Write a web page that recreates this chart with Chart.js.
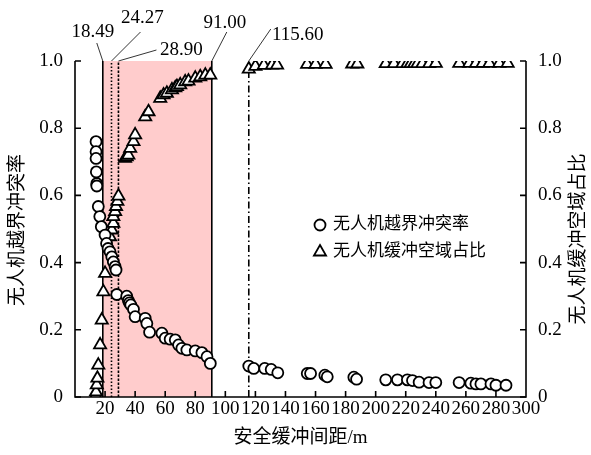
<!DOCTYPE html>
<html>
<head>
<meta charset="utf-8">
<script src="https://cdn.jsdelivr.net/npm/chart.js@4.4.1/dist/chart.umd.min.js"></script>
<style>
  html, body { margin: 0; padding: 0; background: #fff; }
  canvas { display: block; }
</style>
</head>
<body>
<canvas id="chart" width="591" height="455"></canvas>
<script>
// 越界冲突率 (circles)
const rateX = [14.0, 14.0, 14.0, 14.2, 14.5, 14.5, 15.5, 16.5, 17.5, 20.0, 21.0, 22.0, 23.3, 24.5, 25.5, 26.7, 27.3,
  27.8, 34.4, 35.5, 36.2, 37.1, 38.9, 40.0, 46.7, 47.8, 49.6, 57.8, 60.0, 63.3, 66.7, 68.9, 71.1, 74.4, 80.0, 84.4, 87.8, 90.0,
  115.6, 118.9, 126.2, 130.5, 134.9, 154.5, 156.7, 166.2, 167.8, 185.5, 187.3, 206.7, 214.5, 221.1, 224.5, 228.9, 235.5, 240.0,
  255.5, 263.3, 266.7, 270.0, 276.7, 280.0, 286.7];
const rateY = [0.76, 0.73, 0.71, 0.67, 0.635, 0.628, 0.567, 0.537, 0.507, 0.482, 0.457, 0.442, 0.432, 0.417, 0.402, 0.388, 0.378,
  0.305, 0.30, 0.287, 0.28, 0.274, 0.261, 0.239, 0.234, 0.219, 0.193, 0.19, 0.175, 0.172, 0.17, 0.155, 0.145, 0.14, 0.137, 0.132, 0.12, 0.10,
  0.092, 0.085, 0.085, 0.082, 0.072, 0.07, 0.07, 0.065, 0.06, 0.059, 0.053, 0.051, 0.051, 0.051, 0.049, 0.044, 0.043, 0.043,
  0.043, 0.041, 0.039, 0.039, 0.039, 0.035, 0.035];

// 缓冲空域占比 (triangles)
const ratioX = [13.8, 14.0, 14.5, 14.9, 15.5, 16.7, 17.8, 18.9, 20.0, 23.3, 24.5, 25.5, 25.5, 26.7, 27.3, 28.2, 28.9,
  33.3, 34.4, 35.5, 36.7, 38.9, 40.0, 46.7, 48.9, 56.7, 58.9, 61.1, 64.5, 66.7, 67.8, 70.0, 73.3, 75.5, 80.0, 83.3, 86.7, 90.0,
  115.6, 120.0, 125.6, 131.1, 134.4, 154.4, 160.0, 166.7, 184.4, 187.8,
  206.7, 212.2, 217.8, 221.1, 223.3, 225.6, 227.8, 231.1, 235.6, 240.0,
  255.6, 262.2, 266.7, 271.1, 275.6, 282.2, 287.8];
const ratioY = [0.005, 0.015, 0.036, 0.056, 0.095, 0.155, 0.229, 0.313, 0.368, 0.477, 0.497, 0.517, 0.537, 0.552, 0.567, 0.582, 0.598,
  0.71, 0.715, 0.72, 0.74, 0.76, 0.78, 0.834, 0.849, 0.889, 0.899, 0.904, 0.914, 0.92, 0.924, 0.929, 0.938, 0.94, 0.949, 0.953, 0.958, 0.958,
  0.976, 0.984, 0.987, 0.988, 0.988, 0.99, 0.99, 0.99, 0.991, 0.991,
  0.992, 0.992, 0.992, 0.992, 0.992, 0.992, 0.992, 0.992, 0.992, 0.993,
  0.993, 0.993, 0.993, 0.993, 0.993, 0.993, 0.993];

// 标注竖线
const markLines = [18.49, 24.27, 28.90, 91.00, 115.60];
const shadeRange = [18.49, 91.00];

const xTitle = '安全缓冲间距/m';
const yTitle = '无人机越界冲突率';
const y1Title = '无人机缓冲空域占比';

const serif = "'Liberation Serif', 'Noto Sans CJK SC', serif";

function toPoints(xs, ys) {
  return xs.map((x, i) => ({ x: x, y: ys[i] }));
}

// line style + label placement for each marker (offsets from line top)
const markStyle = [
  { dash: [], end: [-6, -18], text: [-10, -29] },
  { dash: [1.5, 2], end: [29, -29], text: [31, -43] },
  { dash: [2.5, 1.5], end: [38, -11], text: [63, -11] },
  { dash: [], end: [15, -29], text: [13, -38] },
  { dash: [7, 3, 1.5, 3], end: [22, -32], text: [49, -26], top: 0.975 }
];

const decorPlugin = {
  id: 'decor',
  beforeDatasetsDraw(chart) {
    const { ctx, chartArea: a, scales: { x, y } } = chart;
    ctx.save();
    // shaded band
    ctx.fillStyle = 'rgb(255,204,204)';
    const x0 = x.getPixelForValue(shadeRange[0]);
    const x1 = x.getPixelForValue(shadeRange[1]);
    ctx.fillRect(x0, a.top, x1 - x0, a.bottom - a.top);

    // vertical lines
    ctx.strokeStyle = '#000';
    ctx.lineWidth = 1.6;
    markLines.forEach((v, i) => {
      const st = markStyle[i];
      const px = x.getPixelForValue(v);
      const yt = y.getPixelForValue(st.top || 1);
      ctx.setLineDash(st.dash);
      ctx.beginPath();
      ctx.moveTo(px, a.bottom);
      ctx.lineTo(px, yt);
      ctx.stroke();
    });
    ctx.setLineDash([]);
    ctx.restore();
  },
  afterDraw(chart) {
    const { ctx, chartArea: a, scales: { x, y, y1 } } = chart;
    ctx.save();
    ctx.strokeStyle = '#000';
    ctx.fillStyle = '#000';
    ctx.lineWidth = 1.6;

    // axes frame (no top line)
    ctx.beginPath();
    ctx.moveTo(a.left, a.top);
    ctx.lineTo(a.left, a.bottom);
    ctx.lineTo(a.right, a.bottom);
    ctx.lineTo(a.right, a.top);
    ctx.stroke();

    // inward ticks
    const tl = 6;
    ctx.beginPath();
    x.ticks.forEach(t => {
      if (t.value <= 0 || t.value >= 300) return;
      const px = x.getPixelForValue(t.value);
      ctx.moveTo(px, a.bottom);
      ctx.lineTo(px, a.bottom - tl);
    });
    y.ticks.forEach(t => {
      const py = y.getPixelForValue(t.value);
      ctx.moveTo(a.left, py);
      ctx.lineTo(a.left + tl, py);
    });
    y1.ticks.forEach(t => {
      const py = y1.getPixelForValue(t.value);
      ctx.moveTo(a.right, py);
      ctx.lineTo(a.right - tl, py);
    });
    ctx.stroke();

    // marker labels with leader lines
    ctx.lineWidth = 0.8;
    ctx.font = '19px ' + serif;
    ctx.textAlign = 'center';
    ctx.textBaseline = 'middle';
    markLines.forEach((v, i) => {
      const st = markStyle[i];
      const px = x.getPixelForValue(v);
      const py = a.top;
      ctx.beginPath();
      ctx.moveTo(px, py);
      ctx.lineTo(px + st.end[0], py + st.end[1]);
      ctx.stroke();
      ctx.fillText(v.toFixed(2), px + st.text[0], py + st.text[1]);
    });

    // axis titles
    ctx.font = '19px ' + serif;
    ctx.fillText(xTitle, (a.left + a.right) / 2, 438);
    ctx.save();
    ctx.translate(18, 230);
    ctx.rotate(-Math.PI / 2);
    ctx.fillText(yTitle, 0, 0);
    ctx.restore();
    ctx.save();
    ctx.translate(579, 239);
    ctx.rotate(-Math.PI / 2);
    ctx.fillText(y1Title, 0, 0);
    ctx.restore();

    // legend
    const ds = chart.data.datasets;
    ctx.font = '17px ' + serif;
    ctx.textAlign = 'left';
    [225, 252].forEach((ly, i) => {
      const d = ds[i];
      ctx.fillStyle = '#fff';
      ctx.strokeStyle = '#000';
      ctx.lineWidth = d.borderWidth;
      ctx.beginPath();
      if (d.pointStyle === 'circle') {
        ctx.arc(320, ly, d.pointRadius, 0, Math.PI * 2);
      } else {
        const r = d.pointRadius;
        ctx.moveTo(320, ly - r);
        ctx.lineTo(320 + r * Math.sin(Math.PI / 3), ly + r / 2);
        ctx.lineTo(320 - r * Math.sin(Math.PI / 3), ly + r / 2);
        ctx.closePath();
      }
      ctx.fill();
      ctx.stroke();
      ctx.fillStyle = '#000';
      ctx.fillText(d.label, 333, ly);
    });
    ctx.restore();
  }
};

new Chart(document.getElementById('chart'), {
  type: 'scatter',
  data: {
    datasets: [{
      label: yTitle,
      data: toPoints(rateX, rateY),
      yAxisID: 'y',
      pointStyle: 'circle',
      pointRadius: 5.5,
      borderWidth: 1.8,
      borderColor: '#000',
      backgroundColor: '#fff'
    }, {
      label: y1Title,
      data: toPoints(ratioX, ratioY),
      yAxisID: 'y1',
      pointStyle: 'triangle',
      pointRadius: 7,
      borderWidth: 1.8,
      borderColor: '#000',
      backgroundColor: '#fff'
    }]
  },
  options: {
    responsive: false,
    animation: false,
    layout: { padding: { top: 61, left: 0, right: 0, bottom: 0 } },
    plugins: {
      legend: { display: false },
      tooltip: { enabled: false }
    },
    scales: {
      x: {
        type: 'linear',
        min: 0,
        max: 300,
        afterFit: s => { s.height = 58; },
        grid: { display: false, drawTicks: false },
        border: { display: false },
        ticks: {
          stepSize: 20,
          maxRotation: 0,
          autoSkip: false,
          padding: 1,
          color: '#000',
          font: { family: serif, size: 19 },
          callback: v => (v === 0 ? '' : v)
        }
      },
      y: {
        position: 'left',
        min: 0,
        max: 1,
        afterFit: s => { s.width = 75; },
        grid: { display: false, drawTicks: false },
        border: { display: false },
        ticks: {
          stepSize: 0.2,
          padding: 12,
          color: '#000',
          font: { family: serif, size: 19 },
          callback: v => (v === 0 ? '0' : v.toFixed(1))
        }
      },
      y1: {
        position: 'right',
        min: 0,
        max: 1,
        afterFit: s => { s.width = 65; },
        grid: { display: false, drawTicks: false },
        border: { display: false },
        ticks: {
          stepSize: 0.2,
          padding: 12,
          color: '#000',
          font: { family: serif, size: 19 },
          callback: v => (v === 0 ? '0' : v.toFixed(1))
        }
      }
    }
  },
  plugins: [decorPlugin]
});
</script>
</body>
</html>
